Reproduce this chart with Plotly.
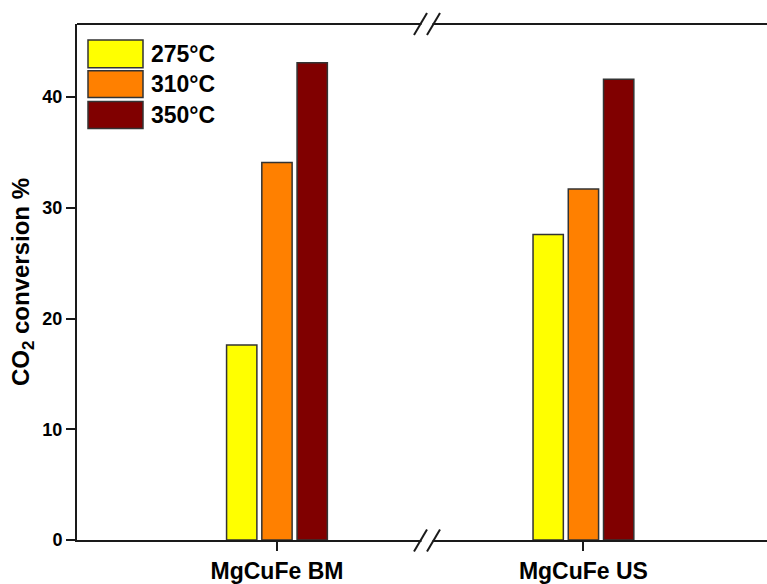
import plotly.graph_objects as go

categories = ["MgCuFe BM", "MgCuFe US"]
cat_pos = [1, 2]
series_names = ["275°C", "310°C", "350°C"]
t275 = [17.6, 27.6]
t310 = [34.1, 31.7]
t350 = [43.1, 41.6]
series_values = [t275, t310, t350]
colors = ["#FFFF00", "#FF8000", "#800000"]
y_ticks = [0, 10, 20, 30, 40]

W, H = 767, 584
ML, MR, MT, MB = 77, 0, 24, 41
PW, PH = W - ML - MR, H - MT - MB

def px(x):
    return (x - ML) / PW

def py(y):
    return (H - MB - y) / PH

FONT = "Liberation Sans, Arial, sans-serif"
AX = "#1a1a1a"

fig = go.Figure()
for name, vals, col in zip(series_names, series_values, colors):
    fig.add_trace(go.Bar(
        x=cat_pos, y=vals, name=name,
        marker=dict(color=col, line=dict(color="#333333", width=1.5)),
        showlegend=False,
    ))

shapes = []
annotations = []

# manual legend
leg_boxes = [(40, 68), (71, 98), (102, 129)]
for (y0, y1), name, col in zip(leg_boxes, series_names, colors):
    shapes.append(dict(type="rect", xref="paper", yref="paper",
                       x0=px(88), x1=px(143), y0=py(y1), y1=py(y0),
                       fillcolor=col, line=dict(color="#333333", width=1.5)))
    annotations.append(dict(xref="paper", yref="paper", x=px(149), y=py((y0 + y1) / 2),
                            text=f"<b>{name}</b>", showarrow=False, xanchor="left",
                            yanchor="middle", font=dict(family=FONT, size=23, color="black")))

# top axis line with break marks (top and bottom)
for y_axis in (24, 543.5):
    if y_axis == 24:
        shapes.append(dict(type="line", xref="paper", yref="paper", x0=0, x1=1,
                           y0=1, y1=1, line=dict(color=AX, width=2)))
    shapes.append(dict(type="line", xref="paper", yref="paper", x0=px(421.5), x1=px(432.5),
                       y0=py(y_axis), y1=py(y_axis), line=dict(color="white", width=5)))
    for xs in (414, 427):
        shapes.append(dict(type="line", xref="paper", yref="paper",
                           x0=px(xs), y0=py(y_axis + 11), x1=px(xs + 13), y1=py(y_axis - 11),
                           line=dict(color=AX, width=2)))

fig.update_layout(
    width=W, height=H,
    margin=dict(l=ML, r=MR, t=MT, b=MB, pad=0),
    paper_bgcolor="white", plot_bgcolor="white",
    barmode="group", bargap=0.655, bargroupgap=0.14,
    font=dict(family=FONT, color="black"),
    shapes=shapes, annotations=annotations,
    showlegend=False,
)
fig.update_xaxes(
    range=[0.3475, 2.599], tickvals=cat_pos,
    ticktext=[f"<b>{c}</b>" for c in categories],
    tickfont=dict(family=FONT, size=23, color="black"),
    ticks="outside", ticklen=9, tickwidth=2, tickcolor=AX,
    showline=True, linecolor=AX, linewidth=2, showgrid=False, zeroline=False,
)
fig.update_yaxes(
    range=[0, 46.6], tickvals=y_ticks,
    tickfont=dict(family=FONT, size=18, color="black", weight="bold"),
    ticks="outside", ticklen=9, tickwidth=2, tickcolor=AX,
    showline=True, linecolor=AX, linewidth=2, showgrid=False, zeroline=False,
    title=dict(text="<b>CO<sub>2</sub> conversion %</b>",
               font=dict(family=FONT, size=24, color="black"), standoff=6),
)

fig.write_html("out.html")
